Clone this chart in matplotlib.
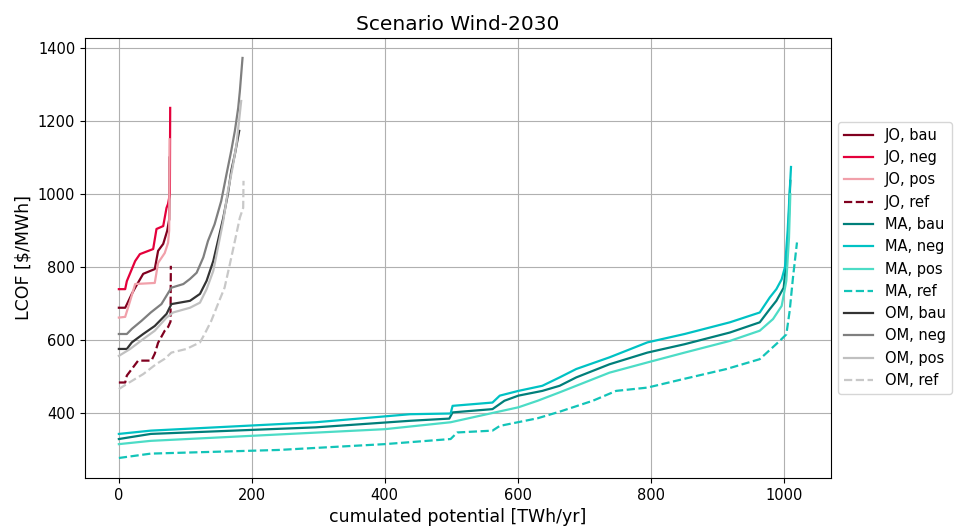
import matplotlib
matplotlib.use("Agg")
import matplotlib.pyplot as plt

# supply curves
# x: cumulated potential [TWh/yr], y: LCOF [$/MWh]

jo_bau_x = [0, 9.5, 12, 19.5, 24.5, 36.6, 54, 59, 66.7, 72.7, 75.7, 76, 76.3]
jo_bau_y = [688, 688, 697, 726, 743, 781, 794, 844, 863, 899, 930, 1020, 1100]
jo_neg_x = [0, 9.5, 12, 24.5, 31.6, 51.6, 56.6, 66.7, 71.7, 74, 76.7, 77, 77.2]
jo_neg_y = [739, 739, 761, 816, 835, 849, 904, 912, 962, 973, 1000, 1150, 1236]
jo_pos_x = [0, 9.5, 17, 24.5, 54, 59, 69, 74, 75.7, 76, 76.3]
jo_pos_y = [661, 663, 707, 753, 756, 811, 838, 866, 900, 1050, 1150]
jo_ref_x = [0, 9.5, 12, 19.5, 29, 49, 54, 59, 69, 74, 77.7, 78, 78.2]
jo_ref_y = [483, 483, 502, 520, 543, 543, 562, 592, 625, 635, 650, 750, 803]

ma_bau_x = [0, 48, 296, 438, 497, 502, 562, 580, 601, 637, 663, 688, 738, 795,
            851, 919, 964, 979, 989, 1000, 1006, 1010]
ma_bau_y = [328, 342, 360, 378, 384, 401, 410, 433, 447, 460, 474, 497, 533, 565,
            588, 620, 648, 684, 707, 743, 850, 1036]
ma_neg_x = [0, 48, 296, 438, 499, 502, 562, 573, 601, 637, 663, 688, 738, 795,
            851, 919, 964, 979, 989, 997, 1002, 1006, 1011]
ma_neg_y = [342, 351, 374, 396, 398, 419, 428, 447, 460, 474, 497, 520, 552, 593,
            616, 648, 675, 716, 739, 766, 800, 900, 1074]
ma_pos_x = [0, 48, 400, 499, 566, 601, 630, 663, 688, 738, 795, 851, 919, 964,
            984, 997, 1004, 1008, 1010]
ma_pos_y = [314, 323, 355, 374, 401, 415, 433, 456, 474, 510, 538, 565, 597, 625,
            657, 693, 762, 880, 1000]
ma_ref_x = [0, 48, 240, 400, 499, 509, 562, 573, 630, 663, 713, 748, 795, 848,
            914, 964, 994, 1004, 1009, 1014, 1020]
ma_ref_y = [276, 288, 298, 314, 328, 346, 351, 364, 385, 403, 433, 460, 469, 492,
            520, 547, 597, 615, 679, 771, 867]

om_bau_x = [0, 12, 19.5, 36.6, 54, 71.7, 79, 107, 122, 132, 142, 149, 157, 164,
            169, 174.5, 181]
om_bau_y = [575, 575, 593, 616, 638, 671, 698, 707, 726, 762, 816, 871, 934, 1000,
            1063, 1109, 1173]
om_neg_x = [0, 12, 19.5, 34, 48, 64, 79, 97, 107, 117, 127, 134, 144, 154, 162,
            169, 174.5, 179.5, 182, 186]
om_neg_y = [616, 616, 630, 652, 675, 698, 743, 753, 767, 784, 826, 871, 917, 981,
            1055, 1118, 1173, 1236, 1282, 1373]
om_pos_x = [0, 17, 36.6, 54, 71.7, 81.6, 107, 122, 132, 142, 149, 157, 164, 171,
            177, 184]
om_pos_y = [556, 575, 602, 625, 661, 675, 688, 702, 739, 789, 853, 926, 1008, 1072,
            1137, 1255]
om_ref_x = [0, 12, 36.6, 56.6, 69, 79, 101.7, 122, 129, 139, 149, 159, 167, 174.5,
            182, 187, 187.5]
om_ref_y = [465, 479, 506, 534, 548, 565, 575, 593, 616, 652, 698, 743, 808, 871,
            935, 962, 1036]

curves = [
    ("JO, bau", jo_bau_x, jo_bau_y, "#80001f", "-"),
    ("JO, neg", jo_neg_x, jo_neg_y, "#e4003b", "-"),
    ("JO, pos", jo_pos_x, jo_pos_y, "#f1a0aa", "-"),
    ("JO, ref", jo_ref_x, jo_ref_y, "#80001f", "--"),
    ("MA, bau", ma_bau_x, ma_bau_y, "#007f7a", "-"),
    ("MA, neg", ma_neg_x, ma_neg_y, "#00c2c4", "-"),
    ("MA, pos", ma_pos_x, ma_pos_y, "#4cdcc6", "-"),
    ("MA, ref", ma_ref_x, ma_ref_y, "#12c4b8", "--"),
    ("OM, bau", om_bau_x, om_bau_y, "#333333", "-"),
    ("OM, neg", om_neg_x, om_neg_y, "#7f7f7f", "-"),
    ("OM, pos", om_pos_x, om_pos_y, "#c0c0c0", "-"),
    ("OM, ref", om_ref_x, om_ref_y, "#c8c8c8", "--"),
]

fig = plt.figure(figsize=(9.6, 5.27), dpi=100)
ax = fig.add_axes([0.0885, 0.093, 0.777, 0.835])

for label, xs, ys, color, ls in curves:
    ax.plot(xs, ys, color=color, linestyle=ls, linewidth=1.6, label=label)

ax.grid(True, color="#b0b0b0", linewidth=0.8)
ax.set_title("Scenario Wind-2030", fontsize=14.5)
ax.set_xlabel("cumulated potential [TWh/yr]", fontsize=12.5)
ax.set_ylabel("LCOF [$/MWh]", fontsize=12.5)
ax.tick_params(labelsize=10.5)
ax.legend(loc="center left", bbox_to_anchor=(1.0, 0.5), fontsize=10.5)

fig.savefig("out.png", dpi=100)
